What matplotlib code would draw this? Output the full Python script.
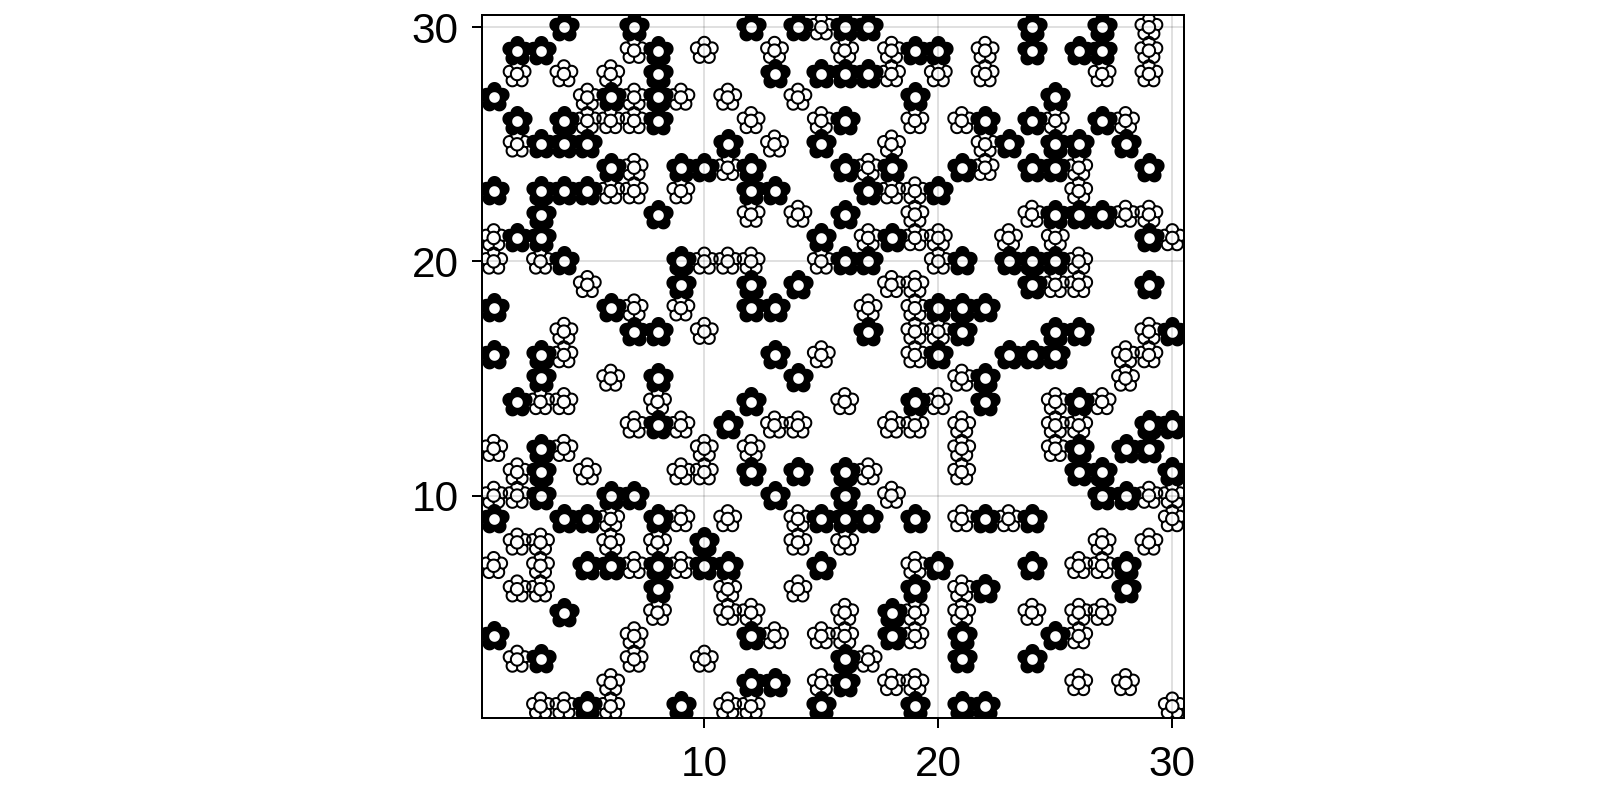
import matplotlib
matplotlib.use("Agg")
import matplotlib.pyplot as plt
import numpy as np
from matplotlib.path import Path

plt.rcParams['font.family'] = ['Liberation Sans', 'DejaVu Sans']

# rows from top to bottom, columns of each kind of florette in that row
rows = list(range(30, 0, -1))
black_cols = [
    [4, 7, 12, 14, 16, 17, 24, 27],
    [2, 3, 8, 19, 20, 24, 26, 27],
    [8, 13, 15, 16, 17],
    [1, 6, 8, 19, 25],
    [2, 4, 8, 16, 22, 24, 27],
    [3, 4, 5, 11, 15, 23, 25, 26, 28],
    [6, 9, 10, 12, 16, 18, 21, 24, 25, 29],
    [1, 3, 4, 5, 12, 13, 17, 20],
    [3, 8, 16, 25, 26, 27],
    [2, 3, 15, 18, 29],
    [4, 9, 16, 17, 21, 23, 24, 25],
    [9, 12, 14, 24, 29],
    [1, 6, 12, 13, 20, 21, 22],
    [7, 8, 17, 21, 25, 26, 30],
    [1, 3, 13, 20, 23, 24, 25],
    [3, 8, 14, 22],
    [2, 12, 19, 22, 26],
    [8, 11, 29, 30],
    [3, 26, 28, 29],
    [3, 12, 14, 16, 26, 27, 30],
    [3, 6, 7, 13, 16, 27, 28],
    [1, 4, 5, 8, 15, 16, 17, 19, 22, 24],
    [10],
    [5, 6, 8, 10, 11, 15, 20, 24, 28],
    [8, 19, 22, 28],
    [4, 18],
    [1, 12, 18, 21, 25],
    [3, 16, 21, 24],
    [12, 13, 16],
    [5, 9, 15, 19, 21, 22],
]
white_cols = [
    [15, 29],
    [7, 10, 13, 16, 18, 22, 29],
    [2, 4, 6, 18, 20, 22, 27, 29],
    [5, 7, 9, 11, 14],
    [5, 6, 7, 12, 15, 19, 21, 25, 28],
    [2, 13, 18, 22],
    [7, 11, 17, 22, 26],
    [6, 7, 9, 18, 19, 26],
    [12, 14, 19, 24, 28, 29],
    [1, 17, 19, 20, 23, 25, 30],
    [1, 3, 10, 11, 12, 15, 20, 26],
    [5, 18, 19, 25, 26],
    [7, 9, 17, 19],
    [4, 10, 19, 20, 29],
    [4, 15, 19, 28, 29],
    [6, 21, 28],
    [3, 4, 8, 16, 20, 25, 27],
    [7, 9, 13, 14, 18, 19, 21, 25, 26],
    [1, 4, 10, 12, 21, 25],
    [2, 5, 9, 10, 17, 21],
    [1, 2, 18, 29, 30],
    [6, 9, 11, 14, 21, 23, 30],
    [2, 3, 6, 8, 14, 16, 27, 29],
    [1, 3, 7, 9, 19, 26, 27],
    [2, 3, 11, 14, 21],
    [8, 11, 12, 16, 19, 21, 24, 26, 27],
    [7, 13, 15, 16, 19, 26],
    [2, 7, 10, 17],
    [6, 15, 18, 19, 26, 28],
    [3, 4, 6, 11, 12, 30],
]

x_ticks = [10, 20, 30]
y_ticks = [10, 20, 30]


def lobes(d, r):
    # five petal arcs, each one running from valley to valley
    half = np.arcsin(d * np.sin(np.pi / 5) / r) + np.pi / 5
    out = []
    for k in range(5):
        a = np.pi / 2 + k * 2 * np.pi / 5
        t = np.linspace(a - half, a + half, 24)
        out.append(np.column_stack([d * np.cos(a) + r * np.cos(t), d * np.sin(a) + r * np.sin(t)]))
    return out


def circle(r):
    t = np.linspace(0, 2 * np.pi, 49)
    return np.column_stack([r * np.cos(t), r * np.sin(t)])


def black_florette():
    outline = np.vstack(lobes(8.4, 7.1))
    outline = np.vstack([outline, outline[:1]])
    hole = circle(5.3)[::-1]
    verts = np.vstack([outline, hole])
    codes = [Path.MOVETO] + [Path.LINETO] * (len(outline) - 1) + [Path.MOVETO] + [Path.LINETO] * (len(hole) - 1)
    return Path(verts, codes)


def white_florette():
    ring_r = 6.2
    verts = []
    codes = []
    for arc in lobes(8.0, 5.8):
        # arc, then a short line in towards the middle ring at the valley
        end = arc[-1]
        inner = end / np.hypot(*end) * ring_r
        part = np.vstack([arc, inner])
        verts.append(part)
        codes += [Path.MOVETO] + [Path.LINETO] * (len(part) - 1)
    ring = circle(ring_r)
    verts.append(ring)
    codes += [Path.MOVETO] + [Path.LINETO] * (len(ring) - 1)
    return Path(np.vstack(verts), codes)


black_x = [c for cols in black_cols for c in cols]
black_y = [r for r, cols in zip(rows, black_cols) for c in cols]
white_x = [c for cols in white_cols for c in cols]
white_y = [r for r, cols in zip(rows, white_cols) for c in cols]

fig = plt.figure(figsize=(16, 8), dpi=100)
ax = fig.add_axes([482 / 1600, 1 - 718 / 800, (1184 - 482) / 1600, (718 - 15.5) / 800])

ax.set_axisbelow(True)
ax.grid(True, color='black', alpha=0.12, linewidth=1.44)

# marker paths get scaled to their largest coordinate, so s comes from that size in pixels
white_s = (2 * 13.8 * 0.72) ** 2
black_s = (2 * 15.5 * 0.72) ** 2
ax.scatter(white_x, white_y, marker=white_florette(), s=white_s, facecolors='none', edgecolors='black', linewidths=1.45)
ax.scatter(black_x, black_y, marker=black_florette(), s=black_s, c='black', linewidths=0)

ax.set_xlim(0.5, 30.5)
ax.set_ylim(0.5, 30.5)
ax.set_xticks(x_ticks)
ax.set_yticks(y_ticks)
ax.tick_params(labelsize=30.5, length=7.2, width=1.44)
ax.tick_params(axis='x', pad=12)
ax.tick_params(axis='y', pad=9.5)
for s in ax.spines.values():
    s.set_linewidth(1.44)

fig.savefig('out.png', dpi=100)
